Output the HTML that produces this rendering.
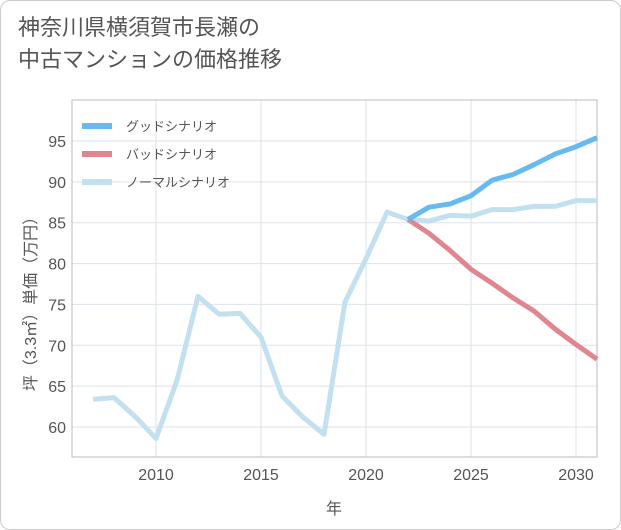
<!DOCTYPE html>
<html><head><meta charset="utf-8">
<style>
body{margin:0;background:#fff;font-family:"Liberation Sans","Noto Sans CJK JP",sans-serif;}
#card{position:absolute;left:0;top:0;width:619px;height:528px;border:1px solid #ccc;border-radius:10px;background:#fff;}
#title{position:absolute;left:18px;top:12px;font-size:22px;line-height:32px;color:#555;}
svg{position:absolute;left:0;top:0;}
</style></head><body>
<div id="card"></div>
<div id="title">神奈川県横須賀市長瀬の<br>中古マンションの価格推移</div>
<svg id="chart" width="621" height="530"></svg>
<script>
const years=[2007,2008,2009,2010,2011,2012,2013,2014,2015,2016,2017,2018,2019,2020,2021,2022,2023,2024,2025,2026,2027,2028,2029,2030,2031];
const normal=[63.4,63.6,61.3,58.6,65.7,76.0,73.8,73.9,71.0,63.8,61.2,59.1,75.3,80.6,86.3,85.4,85.2,85.9,85.8,86.6,86.6,87.0,87.0,87.7,87.7];
const goodYears=[2022,2023,2024,2025,2026,2027,2028,2029,2030,2031];
const good=[85.4,86.9,87.3,88.3,90.2,90.9,92.1,93.4,94.3,95.4];
const bad=[85.4,83.7,81.6,79.3,77.6,75.8,74.2,72.0,70.1,68.3];
const xTicks=[2010,2015,2020,2025,2030];
const yTicks=[60,65,70,75,80,85,90,95];
const X0=72,X1=597,Y0=100,Y1=457;
const x=v=>156+(v-2010)*21;
const y=v=>427-(v-60)*(286/35);
const svg=document.getElementById('chart');
const NS='http://www.w3.org/2000/svg';
function mk(t,a){const e=document.createElementNS(NS,t);for(const k in a)e.setAttribute(k,a[k]);svg.appendChild(e);return e;}
xTicks.forEach(t=>{const l=mk('line',{x1:x(t),x2:x(t),y1:Y0,y2:Y1,stroke:'#dde3ea','stroke-width':1});


const tx=mk('text',{x:x(t),y:480,'text-anchor':'middle','font-size':16,fill:'#555'});tx.textContent=t;

});
yTicks.forEach(t=>{const l=mk('line',{x1:X0,x2:X1,y1:y(t),y2:y(t),stroke:'#dde3ea','stroke-width':1});


const tx=mk('text',{x:66,y:y(t)+6,'text-anchor':'end','font-size':16,fill:'#555'});tx.textContent=t;

});
const fr=mk('rect',{x:X0,y:Y0,width:X1-X0,height:Y1-Y0,fill:'none',stroke:'#bbb'});


function line(xs,vs,c,name){const p=mk('polyline',{points:xs.map((t,i)=>x(t)+','+y(vs[i])).join(' '),fill:'none',stroke:c,'stroke-width':5,'stroke-linejoin':'round'});

}
line(years,normal,'#c2e0ef','normal-series-line');
line(goodYears,bad,'#e0868f','bad-series-line');
line(goodYears,good,'#66baf0','good-series-line');
[['グッドシナリオ','#66baf0'],['バッドシナリオ','#e0868f'],['ノーマルシナリオ','#c2e0ef']].forEach((d,i)=>{
const yy=126+i*28;
const l=mk('line',{x1:82,x2:112,y1:yy,y2:yy,stroke:d[1],'stroke-width':6});


const t=mk('text',{x:126,y:yy+5,'font-size':13,fill:'#555'});t.textContent=d[0];

});
const xt=mk('text',{x:334,y:514,'text-anchor':'middle','font-size':16,fill:'#555'});xt.textContent='年';


const yt=mk('text',{x:0,y:0,'text-anchor':'middle','font-size':16,fill:'#555',transform:'translate(36,300) rotate(-90)'});yt.textContent='坪（3.3㎡）単価（万円）';


</script>
</body></html>
